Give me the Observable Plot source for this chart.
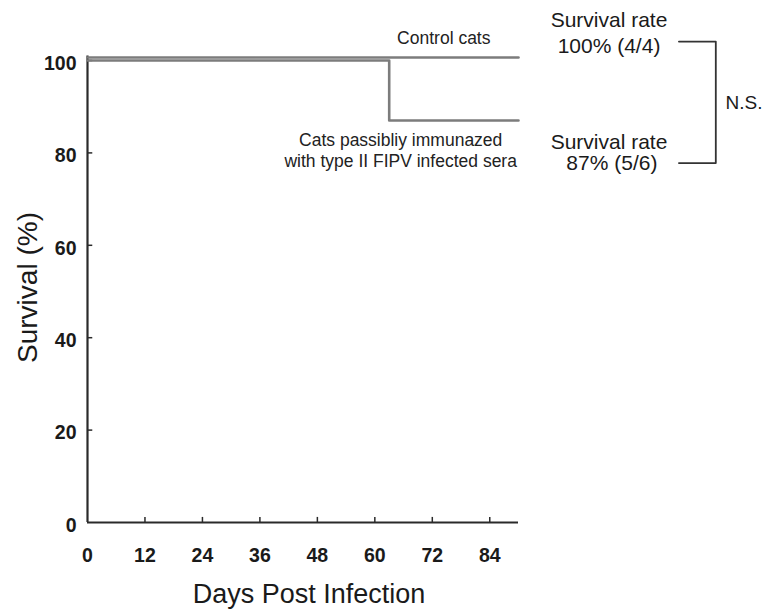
<!DOCTYPE html>
<html>
<head>
<meta charset="utf-8">
<script src="https://cdn.jsdelivr.net/npm/d3@7"></script>
<script src="https://cdn.jsdelivr.net/npm/@observablehq/plot@0.6"></script>
<style>
  html, body { margin: 0; padding: 0; background: #fff; }
  #chart svg { display: block; font-family: "Liberation Sans", Arial, sans-serif; }
</style>
</head>
<body>
<div id="chart"></div>
<script>
// Survival data (Kaplan–Meier style step curves)
const controlDays = [0, 90];
const controlSurvival = [100, 100];
const immunizedDays = [0, 63, 90];
const immunizedSurvival = [100, 87, 87];

const xTicks = [0, 12, 24, 36, 48, 60, 72, 84];
const yTicks = [0, 20, 40, 60, 80, 100];

const controlLabel = "Control cats";
const immunizedLabel1 = "Cats passibliy immunazed";
const immunizedLabel2 = "with type II FIPV infected sera";
const rateTitle = "Survival rate";
const controlRate = "100% (4/4)";
const immunizedRate = "87% (5/6)";
const significance = "N.S.";
const xLabel = "Days Post Infection";
const yLabel = "Survival (%)";

const control = controlDays.map((d, i) => ({day: d, survival: controlSurvival[i]}));
const immunized = immunizedDays.map((d, i) => ({day: d, survival: immunizedSurvival[i]}));

// bracket connecting the two survival rates
const bracket = [
  {day: 123.5, survival: 104.1},
  {day: 131.2, survival: 104.1},
  {day: 131.2, survival: 77.8},
  {day: 123.5, survival: 77.8}
];

const axisColor = "#2a2a2a";
const lineColor = "#7c7c7c";

const chart = Plot.plot({
  width: 766,
  height: 610,
  marginLeft: 87,
  marginRight: 248,
  marginTop: 60,
  marginBottom: 88,
  x: {domain: [0, 90]},
  y: {domain: [0, 100]},
  marks: [
    // axis lines
    Plot.ruleY([0], {stroke: axisColor, strokeWidth: 2.2}),
    Plot.ruleX([0], {y1: 0, y2: 101, stroke: axisColor, strokeWidth: 2.2}),
    // inward ticks
    Plot.ruleX(xTicks.filter(d => d > 0), {y1: 0, y2: 1.1, stroke: axisColor, strokeWidth: 1.5}),
    Plot.ruleY(yTicks.filter(d => d > 0), {x1: 0, x2: 1.1, stroke: axisColor, strokeWidth: 1.5}),
    // tick labels
    Plot.axisX({ticks: xTicks, tickSize: 0, tickPadding: 26, fontSize: 19.5, fontWeight: "bold", fill: "#1a1a1a", label: null}),
    Plot.axisY({ticks: yTicks, tickSize: 0, tickPadding: 11, dy: 3, fontSize: 19.5, fontWeight: "bold", fill: "#1a1a1a", label: null}),
    // survival curves
    Plot.line(immunized, {x: "day", y: "survival", curve: "step-after", stroke: lineColor, strokeWidth: 2.6}),
    Plot.line(control, {x: "day", y: "survival", curve: "step-after", stroke: lineColor, strokeWidth: 2.6, dy: -3}),
    // annotations
    Plot.text([controlLabel], {x: 74.4, y: 104.8, text: d => d, fontSize: 17.5, fill: "#222"}),
    Plot.text([immunizedLabel1], {x: 65.4, y: 82.6, text: d => d, fontSize: 17.5, fill: "#222"}),
    Plot.text([immunizedLabel2], {x: 65.4, y: 78.1, text: d => d, fontSize: 17.5, fill: "#222"}),
    Plot.text([rateTitle], {x: 108.9, y: 108.7, text: d => d, fontSize: 21, fill: "#1a1a1a"}),
    Plot.text([controlRate], {x: 108.9, y: 103.0, text: d => d, fontSize: 21, fill: "#1a1a1a"}),
    Plot.text([rateTitle], {x: 108.9, y: 82.4, text: d => d, fontSize: 21, fill: "#1a1a1a"}),
    Plot.text([immunizedRate], {x: 109.5, y: 77.8, text: d => d, fontSize: 21, fill: "#1a1a1a"}),
    Plot.line(bracket, {x: "day", y: "survival", stroke: "#333", strokeWidth: 1.8}),
    Plot.text([significance], {x: 137.1, y: 90.9, text: d => d, fontSize: 19, fill: "#1a1a1a"}),
    // axis titles
    Plot.text([xLabel], {frameAnchor: "bottom", textAnchor: "middle", lineAnchor: "middle", dx: 6, dy: 72, text: d => d, fontSize: 27, fill: "#1a1a1a"}),
    Plot.text([yLabel], {frameAnchor: "left", textAnchor: "middle", lineAnchor: "middle", dx: -59, dy: -4, rotate: -90, text: d => d, fontSize: 28, fill: "#1a1a1a"})
  ]
});
document.getElementById("chart").appendChild(chart);
</script>
</body>
</html>
